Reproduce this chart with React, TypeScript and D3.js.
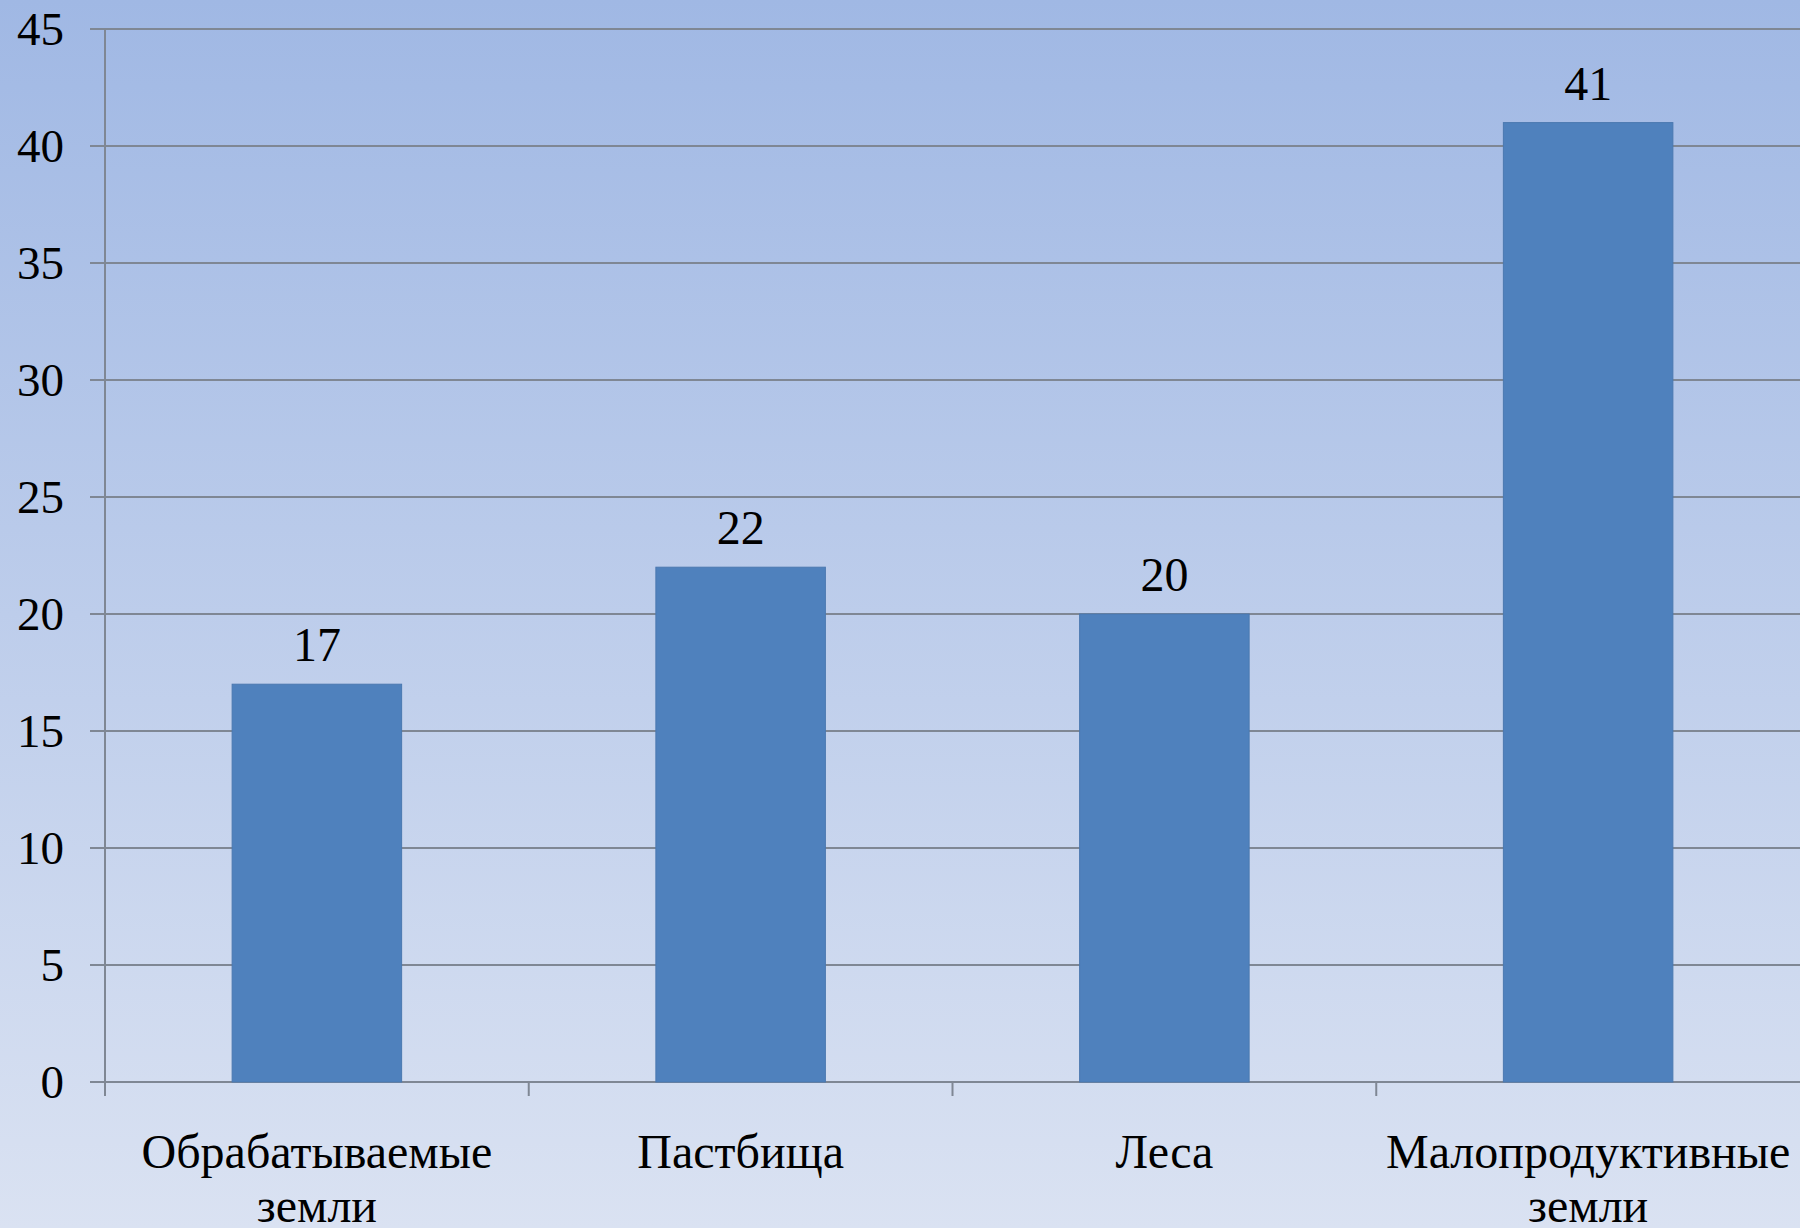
import React, { useEffect, useRef } from "react";
import * as d3 from "d3";

const categories: string[][] = [
  ["Обрабатываемые", "земли"],
  ["Пастбища"],
  ["Леса"],
  ["Малопродуктивные", "земли"],
];
const values: number[] = [17, 22, 20, 41];
const yTicks: number[] = [0, 5, 10, 15, 20, 25, 30, 35, 40, 45];

const W = 1800;
const H = 1228;

export default function App() {
  const ref = useRef<SVGSVGElement>(null);

  useEffect(() => {
    document.body.style.margin = "0";
    const svg = d3.select(ref.current);
    svg.selectAll("*").remove();

    const defs = svg.append("defs");
    const grad = defs
      .append("linearGradient")
      .attr("id", "bg")
      .attr("x1", 0)
      .attr("y1", 0)
      .attr("x2", 0)
      .attr("y2", 1);
    grad.append("stop").attr("offset", "0%").attr("stop-color", "#a0b8e4");
    grad.append("stop").attr("offset", "100%").attr("stop-color", "#dae2f2");

    svg.append("rect").attr("width", W).attr("height", H).attr("fill", "url(#bg)");

    const left = 105;
    const right = 1800;
    const top = 29;
    const bottom = 1082;

    const idx = values.map((_, i) => String(i));
    const x = d3
      .scaleBand<string>()
      .domain(idx)
      .range([left, right])
      .paddingInner(0.6)
      .paddingOuter(0.3);
    const xStep = d3.scaleBand<string>().domain(idx).range([left, right]).padding(0);
    const y = d3.scaleLinear().domain([0, 45]).range([bottom, top]);

    const gridColor = "#7f8794";
    const font = "'Liberation Serif', 'Times New Roman', serif";

    // gridlines
    svg
      .append("g")
      .selectAll("line")
      .data(yTicks)
      .join("line")
      .attr("x1", left - 15)
      .attr("x2", right)
      .attr("y1", (d) => y(d))
      .attr("y2", (d) => y(d))
      .attr("stroke", gridColor)
      .attr("stroke-width", 2);

    // y axis line
    svg
      .append("line")
      .attr("x1", left)
      .attr("x2", left)
      .attr("y1", top)
      .attr("y2", bottom + 14)
      .attr("stroke", gridColor)
      .attr("stroke-width", 2);

    // x tick marks
    svg
      .append("g")
      .selectAll("line")
      .data(idx.slice(1))
      .join("line")
      .attr("x1", (d) => xStep(d)!)
      .attr("x2", (d) => xStep(d)!)
      .attr("y1", bottom)
      .attr("y2", bottom + 14)
      .attr("stroke", gridColor)
      .attr("stroke-width", 2);

    // y tick labels
    svg
      .append("g")
      .selectAll("text")
      .data(yTicks)
      .join("text")
      .attr("x", 64)
      .attr("y", (d) => y(d))
      .attr("dy", "0.35em")
      .attr("text-anchor", "end")
      .attr("font-family", font)
      .attr("font-size", 47)
      .attr("fill", "#000")
      .text((d) => String(d));

    // bars
    svg
      .append("g")
      .selectAll("rect")
      .data(values)
      .join("rect")
      .attr("x", (_, i) => x(String(i))!)
      .attr("width", x.bandwidth())
      .attr("y", (d) => y(d))
      .attr("height", (d) => bottom - y(d))
      .attr("fill", "#4f81bd")
      .attr("stroke", "#4a78b0")
      .attr("stroke-width", 1);

    // value labels
    svg
      .append("g")
      .selectAll("text")
      .data(values)
      .join("text")
      .attr("x", (_, i) => x(String(i))! + x.bandwidth() / 2)
      .attr("y", (d) => y(d) - 23)
      .attr("text-anchor", "middle")
      .attr("font-family", font)
      .attr("font-size", 48)
      .attr("fill", "#000")
      .text((d) => String(d));

    // category labels
    const cat = svg
      .append("g")
      .selectAll("text")
      .data(categories)
      .join("text")
      .attr("text-anchor", "middle")
      .attr("font-family", font)
      .attr("font-size", 48)
      .attr("fill", "#000");
    cat.each(function (lines, i) {
      const cx = x(String(i))! + x.bandwidth() / 2;
      const t = d3.select(this);
      lines.forEach((ln, j) => {
        t.append("tspan")
          .attr("x", cx)
          .attr("y", 1168 + j * 54)
          .text(ln);
      });
    });
  }, []);

  return <svg ref={ref} width={W} height={H} style={{ display: "block" }} />;
}
